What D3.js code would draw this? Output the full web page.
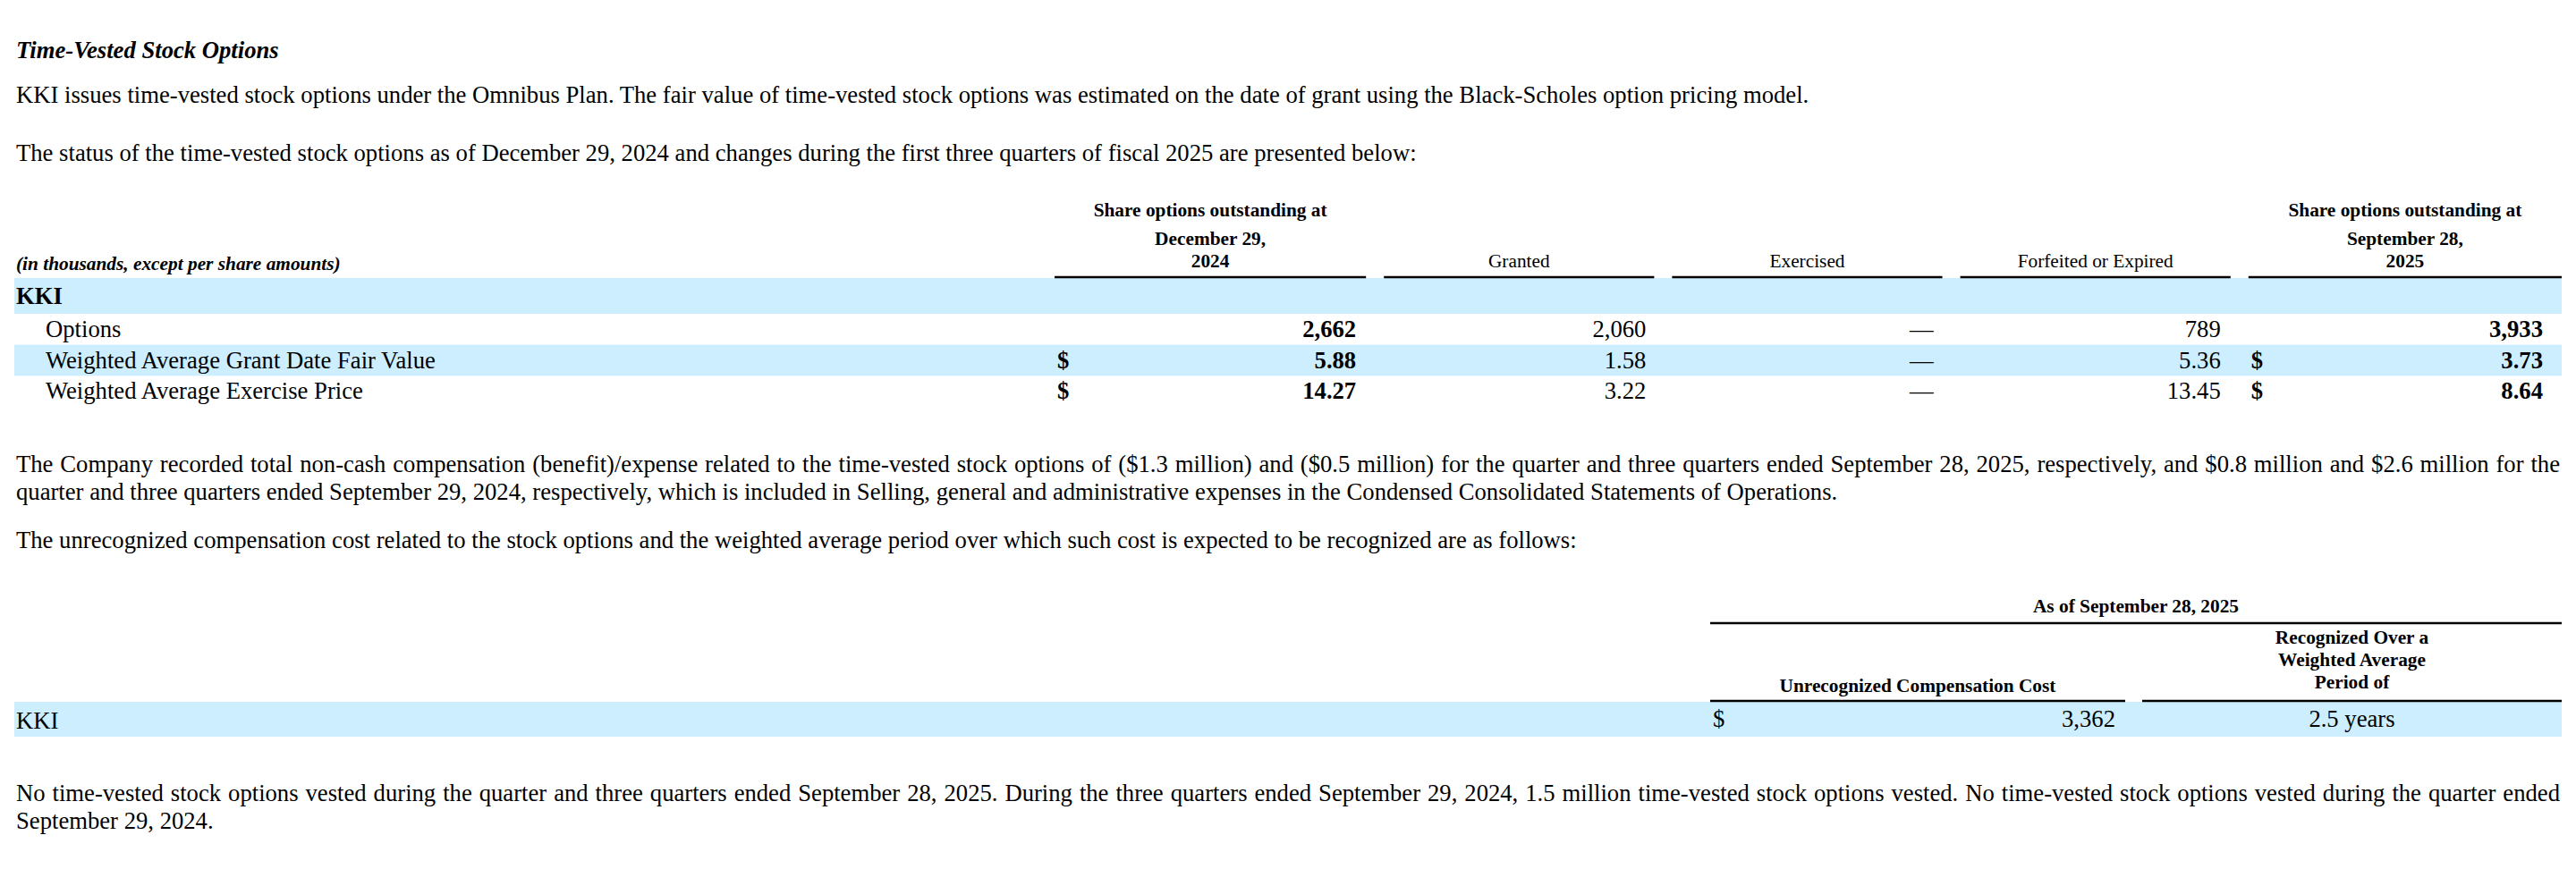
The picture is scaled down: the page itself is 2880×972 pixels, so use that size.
<!DOCTYPE html>
<html>
<head>
<meta charset="utf-8">
<script src="https://cdn.jsdelivr.net/npm/d3@7"></script>
<style>
html, body { margin: 0; padding: 0; background: #fff; }
svg { display: block; }
text { font-family: "Liberation Serif", "Times New Roman", serif; fill: #000; }
</style>
</head>
<body>
<div id="chart"></div>
<script>
// ---- data ----
var title = "Time-Vested Stock Options";
var introText = ["KKI issues time-vested stock options under the Omnibus Plan. The fair value of time-vested stock options was estimated on the date of grant using the Black-Scholes option pricing model."];
var statusText = ["The status of the time-vested stock options as of December 29, 2024 and changes during the first three quarters of fiscal 2025 are presented below:"];
var expenseText = [
  "The Company recorded total non-cash compensation (benefit)/expense related to the time-vested stock options of ($1.3 million) and ($0.5 million) for the quarter and three quarters ended September 28, 2025, respectively, and $0.8 million and $2.6 million for the",
  "quarter and three quarters ended September 29, 2024, respectively, which is included in Selling, general and administrative expenses in the Condensed Consolidated Statements of Operations."
];
var unrecText = ["The unrecognized compensation cost related to the stock options and the weighted average period over which such cost is expected to be recognized are as follows:"];
var vestText = [
  "No time-vested stock options vested during the quarter and three quarters ended September 28, 2025. During the three quarters ended September 29, 2024, 1.5 million time-vested stock options vested. No time-vested stock options vested during the quarter ended",
  "September 29, 2024."
];

var unitsNote = "(in thousands, except per share amounts)";
var companies = ["KKI"];
var columnHeads = [
  ["Share options outstanding at", "December 29,", "2024"],
  ["Granted"],
  ["Exercised"],
  ["Forfeited or Expired"],
  ["Share options outstanding at", "September 28,", "2025"]
];
var rowLabels = ["Options", "Weighted Average Grant Date Fair Value", "Weighted Average Exercise Price"];
var optionsCount   = [2662, 2060, null, 789, 3933];
var grantFairValue = [5.88, 1.58, null, 5.36, 3.73];
var exercisePrice  = [14.27, 3.22, null, 13.45, 8.64];

var costGroupHead = "As of September 28, 2025";
var costHeads = [["Unrecognized Compensation Cost"], ["Recognized Over a", "Weighted Average", "Period of"]];
var unrecognizedCost = [3362];
var periodYears = [2.5];

// ---- layout ----
var W = 2880, H = 972;
var left = 18, right = 2862;
var band = "#cceeff";
var bodySize = 26.67, headSize = 21.33;

var svg = d3.select("#chart").append("svg")
    .attr("width", W)
    .attr("height", H);
svg.append("rect").attr("width", W).attr("height", H).attr("fill", "#fff");

// write one line of text, stretched to the full width if justify is set
function textLine(g, str, x0, y, o) {
  o = o || {};
  var t = g.append("text")
      .attr("x", x0)
      .attr("y", y)
      .style("font-size", (o.size || bodySize) + "px")
      .style("font-weight", o.bold ? "bold" : "normal")
      .style("font-style", o.italic ? "italic" : "normal")
      .attr("text-anchor", o.anchor || "start");
  if (!o.justify) { t.text(str); return t; }
  var words = str.split(" ");
  var widths = words.map(function(w) { t.text(w); return t.node().getComputedTextLength(); });
  t.text("");
  var gap = (o.width - d3.sum(widths)) / (words.length - 1);
  var x = x0;
  words.forEach(function(w, i) {
    t.append("tspan").attr("x", x).text(w);
    x += widths[i] + gap;
  });
  return t;
}

function paragraph(lines, y0) {
  lines.forEach(function(l, i) {
    textLine(svg, l, left, y0 + i * 31, {justify: i < lines.length - 1, width: right - left});
  });
}

textLine(svg, title, left, 65, {bold: true, italic: true});
paragraph(introText, 115);
paragraph(statusText, 180);
paragraph(expenseText, 528);
paragraph(unrecText, 613);
paragraph(vestText, 896);

// ---- table 1 ----
var t1 = svg.append("g");
var colW = [348, 302, 302, 302, 350], gapW = 20;
var colStart = colW.map(function(w, i) { return d3.sum(colW.slice(0, i)) + i * gapW; });
var x1 = d3.scaleLinear()
    .domain([0, d3.sum(colW) + gapW * (colW.length - 1)])
    .range([1179, 2864]);
var valuePad = [11, 9, 10, 11, 21];

var y1 = d3.scaleBand()
    .domain(rowLabels)
    .range([351, 455]);

// group row band and shaded alternate row
t1.append("rect")
    .attr("x", 16).attr("width", 2848)
    .attr("y", 311).attr("height", 40)
    .attr("fill", band);
t1.selectAll(".rowband")
    .data(rowLabels.filter(function(d, i) { return i % 2 == 1; }))
  .enter().append("rect")
    .attr("class", "rowband")
    .attr("x", 16).attr("width", 2848)
    .attr("y", function(d) { return y1(d); })
    .attr("height", y1.bandwidth())
    .attr("fill", band);

textLine(t1, unitsNote, left, 302, {size: headSize, bold: true, italic: true});
textLine(t1, companies[0], left, 340, {bold: true});

// column heads and rules
columnHeads.forEach(function(lines, c) {
  var cx = x1(colStart[c] + colW[c] / 2);
  var n = lines.length;
  lines.forEach(function(l, i) {
    var y = 299 - (n - 1 - i) * 25 - (i == 0 && n == 3 ? 7 : 0);
    textLine(t1, l, cx, y, {size: headSize, bold: n > 1, anchor: "middle"});
  });
  t1.append("line")
      .attr("x1", x1(colStart[c])).attr("x2", x1(colStart[c] + colW[c]))
      .attr("y1", 310).attr("y2", 310)
      .attr("stroke", "#000").attr("stroke-width", 2.5);
});

var fmtCount = d3.format(","), fmtPrice = d3.format(".2f");
var rows = [
  {label: rowLabels[0], values: optionsCount, fmt: fmtCount, dollar: false},
  {label: rowLabels[1], values: grantFairValue, fmt: fmtPrice, dollar: true},
  {label: rowLabels[2], values: exercisePrice, fmt: fmtPrice, dollar: true}
];
rows.forEach(function(r) {
  var base = y1(r.label) + 26;
  textLine(t1, r.label, 51, base);
  r.values.forEach(function(v, c) {
    var bold = (c == 0 || c == colW.length - 1);
    var xr = x1(colStart[c] + colW[c]) - valuePad[c];
    textLine(t1, v == null ? "\u2014" : r.fmt(v), xr, base, {bold: bold && v != null, anchor: "end"});
    if (r.dollar && bold) textLine(t1, "$", x1(colStart[c]) + 3, base, {bold: true});
  });
});

// ---- table 2 ----
var t2 = svg.append("g");
var costW = [464, 469], costGap = 19;
var costStart = [0, costW[0] + costGap];
var x2 = d3.scaleLinear()
    .domain([0, d3.sum(costW) + costGap])
    .range([1912, 2864]);

t2.append("rect")
    .attr("x", 16).attr("width", 2848)
    .attr("y", 785).attr("height", 39)
    .attr("fill", band);

textLine(t2, costGroupHead, x2((d3.sum(costW) + costGap) / 2), 685, {size: headSize, bold: true, anchor: "middle"});
t2.append("line")
    .attr("x1", x2(0)).attr("x2", x2(d3.sum(costW) + costGap))
    .attr("y1", 697).attr("y2", 697)
    .attr("stroke", "#000").attr("stroke-width", 2.5);

costHeads.forEach(function(lines, c) {
  var cx = x2(costStart[c] + costW[c] / 2);
  var n = lines.length;
  var bottom = n == 1 ? 774 : 770;
  lines.forEach(function(l, i) {
    textLine(t2, l, cx, bottom - (n - 1 - i) * 25, {size: headSize, bold: true, anchor: "middle"});
  });
  t2.append("line")
      .attr("x1", x2(costStart[c])).attr("x2", x2(costStart[c] + costW[c]))
      .attr("y1", 784).attr("y2", 784)
      .attr("stroke", "#000").attr("stroke-width", 2.5);
});

textLine(t2, companies[0], left, 815);
textLine(t2, "$", x2(0) + 3, 813);
textLine(t2, d3.format(",")(unrecognizedCost[0]), x2(costW[0]) - 11, 813, {anchor: "end"});
textLine(t2, periodYears[0] + " years", x2(costStart[1] + costW[1] / 2), 813, {anchor: "middle"});
</script>
</body>
</html>
